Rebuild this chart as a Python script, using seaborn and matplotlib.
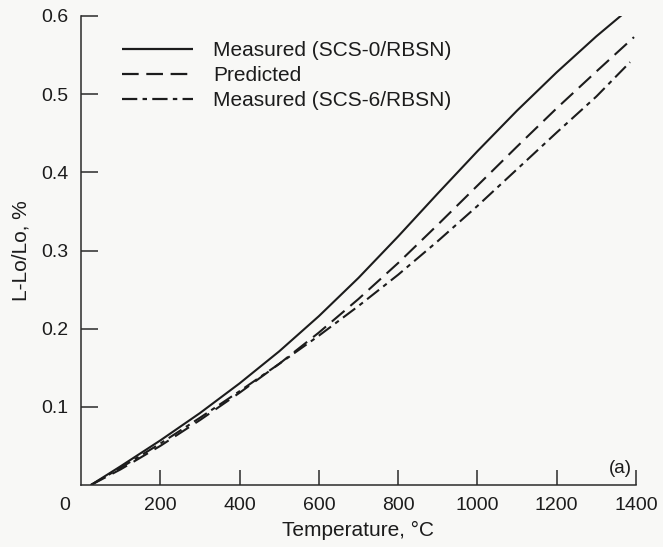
import numpy as np
import pandas as pd
import matplotlib
matplotlib.use("Agg")
import matplotlib.pyplot as plt
import seaborn as sns

# Thermal expansion of SiC fiber / RBSN composites
temp_scs0 = [25, 100, 200, 300, 400, 500, 600, 700, 800, 900, 1000, 1100, 1200, 1300, 1380]
strain_scs0 = [0.0, 0.024, 0.057, 0.092, 0.130, 0.171, 0.216, 0.265, 0.318, 0.373, 0.427,
               0.479, 0.528, 0.574, 0.608]

temp_pred = [25, 100, 200, 300, 400, 500, 600, 700, 800, 900, 1000, 1100, 1200, 1300, 1395]
strain_pred = [0.0, 0.020, 0.050, 0.083, 0.118, 0.155, 0.195, 0.238, 0.284, 0.333, 0.383,
               0.433, 0.482, 0.529, 0.573]

temp_scs6 = [25, 100, 200, 300, 400, 500, 600, 700, 800, 900, 1000, 1100, 1200, 1300, 1385]
strain_scs6 = [0.0, 0.022, 0.053, 0.086, 0.120, 0.155, 0.191, 0.229, 0.269, 0.312, 0.357,
               0.404, 0.451, 0.497, 0.541]

series_names = ["Measured (SCS-0/RBSN)", "Predicted", "Measured (SCS-6/RBSN)"]
x_ticks = [200, 400, 600, 800, 1000, 1200, 1400]
y_ticks = [0.1, 0.2, 0.3, 0.4, 0.5, 0.6]

sns.set_style("white")
plt.rcParams["font.family"] = ["Liberation Sans", "DejaVu Sans"]
plt.rcParams["lines.scale_dashes"] = False

ink = "#1c1c1c"
bg = "#f8f8f6"

fig = plt.figure(figsize=(6.63, 5.47), dpi=100, facecolor=bg)
ax = fig.add_axes([81 / 663, 1 - 485 / 547, (636 - 81) / 663, (485 - 16) / 547])
ax.set_facecolor(bg)

frames = [
    pd.DataFrame({"T": temp_scs0, "dL": strain_scs0}),
    pd.DataFrame({"T": temp_pred, "dL": strain_pred}),
    pd.DataFrame({"T": temp_scs6, "dL": strain_scs6}),
]
dash_styles = [None, (12, 5.5), (11, 3.8, 3.2, 3.8)]

for df, name, dashes in zip(frames, series_names, dash_styles):
    sns.lineplot(data=df, x="T", y="dL", ax=ax, color=ink, linewidth=1.5,
                 label=name, estimator=None, sort=True)
    line = ax.lines[-1]
    if dashes is not None:
        line.set_dashes(dashes)
    line.set_solid_capstyle("butt")
    line.set_dash_capstyle("butt")
    line.set_solid_joinstyle("round")

ax.set_xlim(0, 1400)
ax.set_ylim(0, 0.6)
ax.set_xticks(x_ticks)
ax.set_yticks(y_ticks)
ax.set_xticklabels([str(v) for v in x_ticks])
ax.set_yticklabels([f"{v:.1f}" for v in y_ticks])

for side in ["top", "right"]:
    ax.spines[side].set_visible(False)
for side in ["left", "bottom"]:
    ax.spines[side].set_color("#2a2a2a")
    ax.spines[side].set_linewidth(1.1)

ax.tick_params(axis="both", direction="in", color="#2a2a2a", width=1.1,
               labelsize=14, labelcolor=ink, bottom=True, left=True)
ax.tick_params(axis="x", length=11, pad=8.5)
ax.tick_params(axis="y", length=12, pad=9)

# origin label sits left of the corner
ax.annotate("0", xy=(0, 0), xycoords="data", xytext=(-11.5, -8.5),
            textcoords="offset points", ha="center", va="top",
            fontsize=14, color=ink)

ax.set_xlabel("Temperature, °C", fontsize=15, color=ink, labelpad=5)
ax.set_ylabel("L-Lo/Lo, %", fontsize=15, color=ink, labelpad=8)

ax.text(0.992, 0.018, "(a)", transform=ax.transAxes, ha="right", va="bottom",
        fontsize=13.5, color=ink)

leg = ax.legend(loc="upper left", bbox_to_anchor=(0.059, 0.964), frameon=False,
                fontsize=15, handlelength=3.41, handletextpad=0.96,
                labelspacing=0.28, borderaxespad=0)
for txt in leg.get_texts():
    txt.set_color(ink)
for h in leg.get_lines():
    h.set_linewidth(1.6)

fig.savefig("out.png", dpi=100, facecolor=bg)
